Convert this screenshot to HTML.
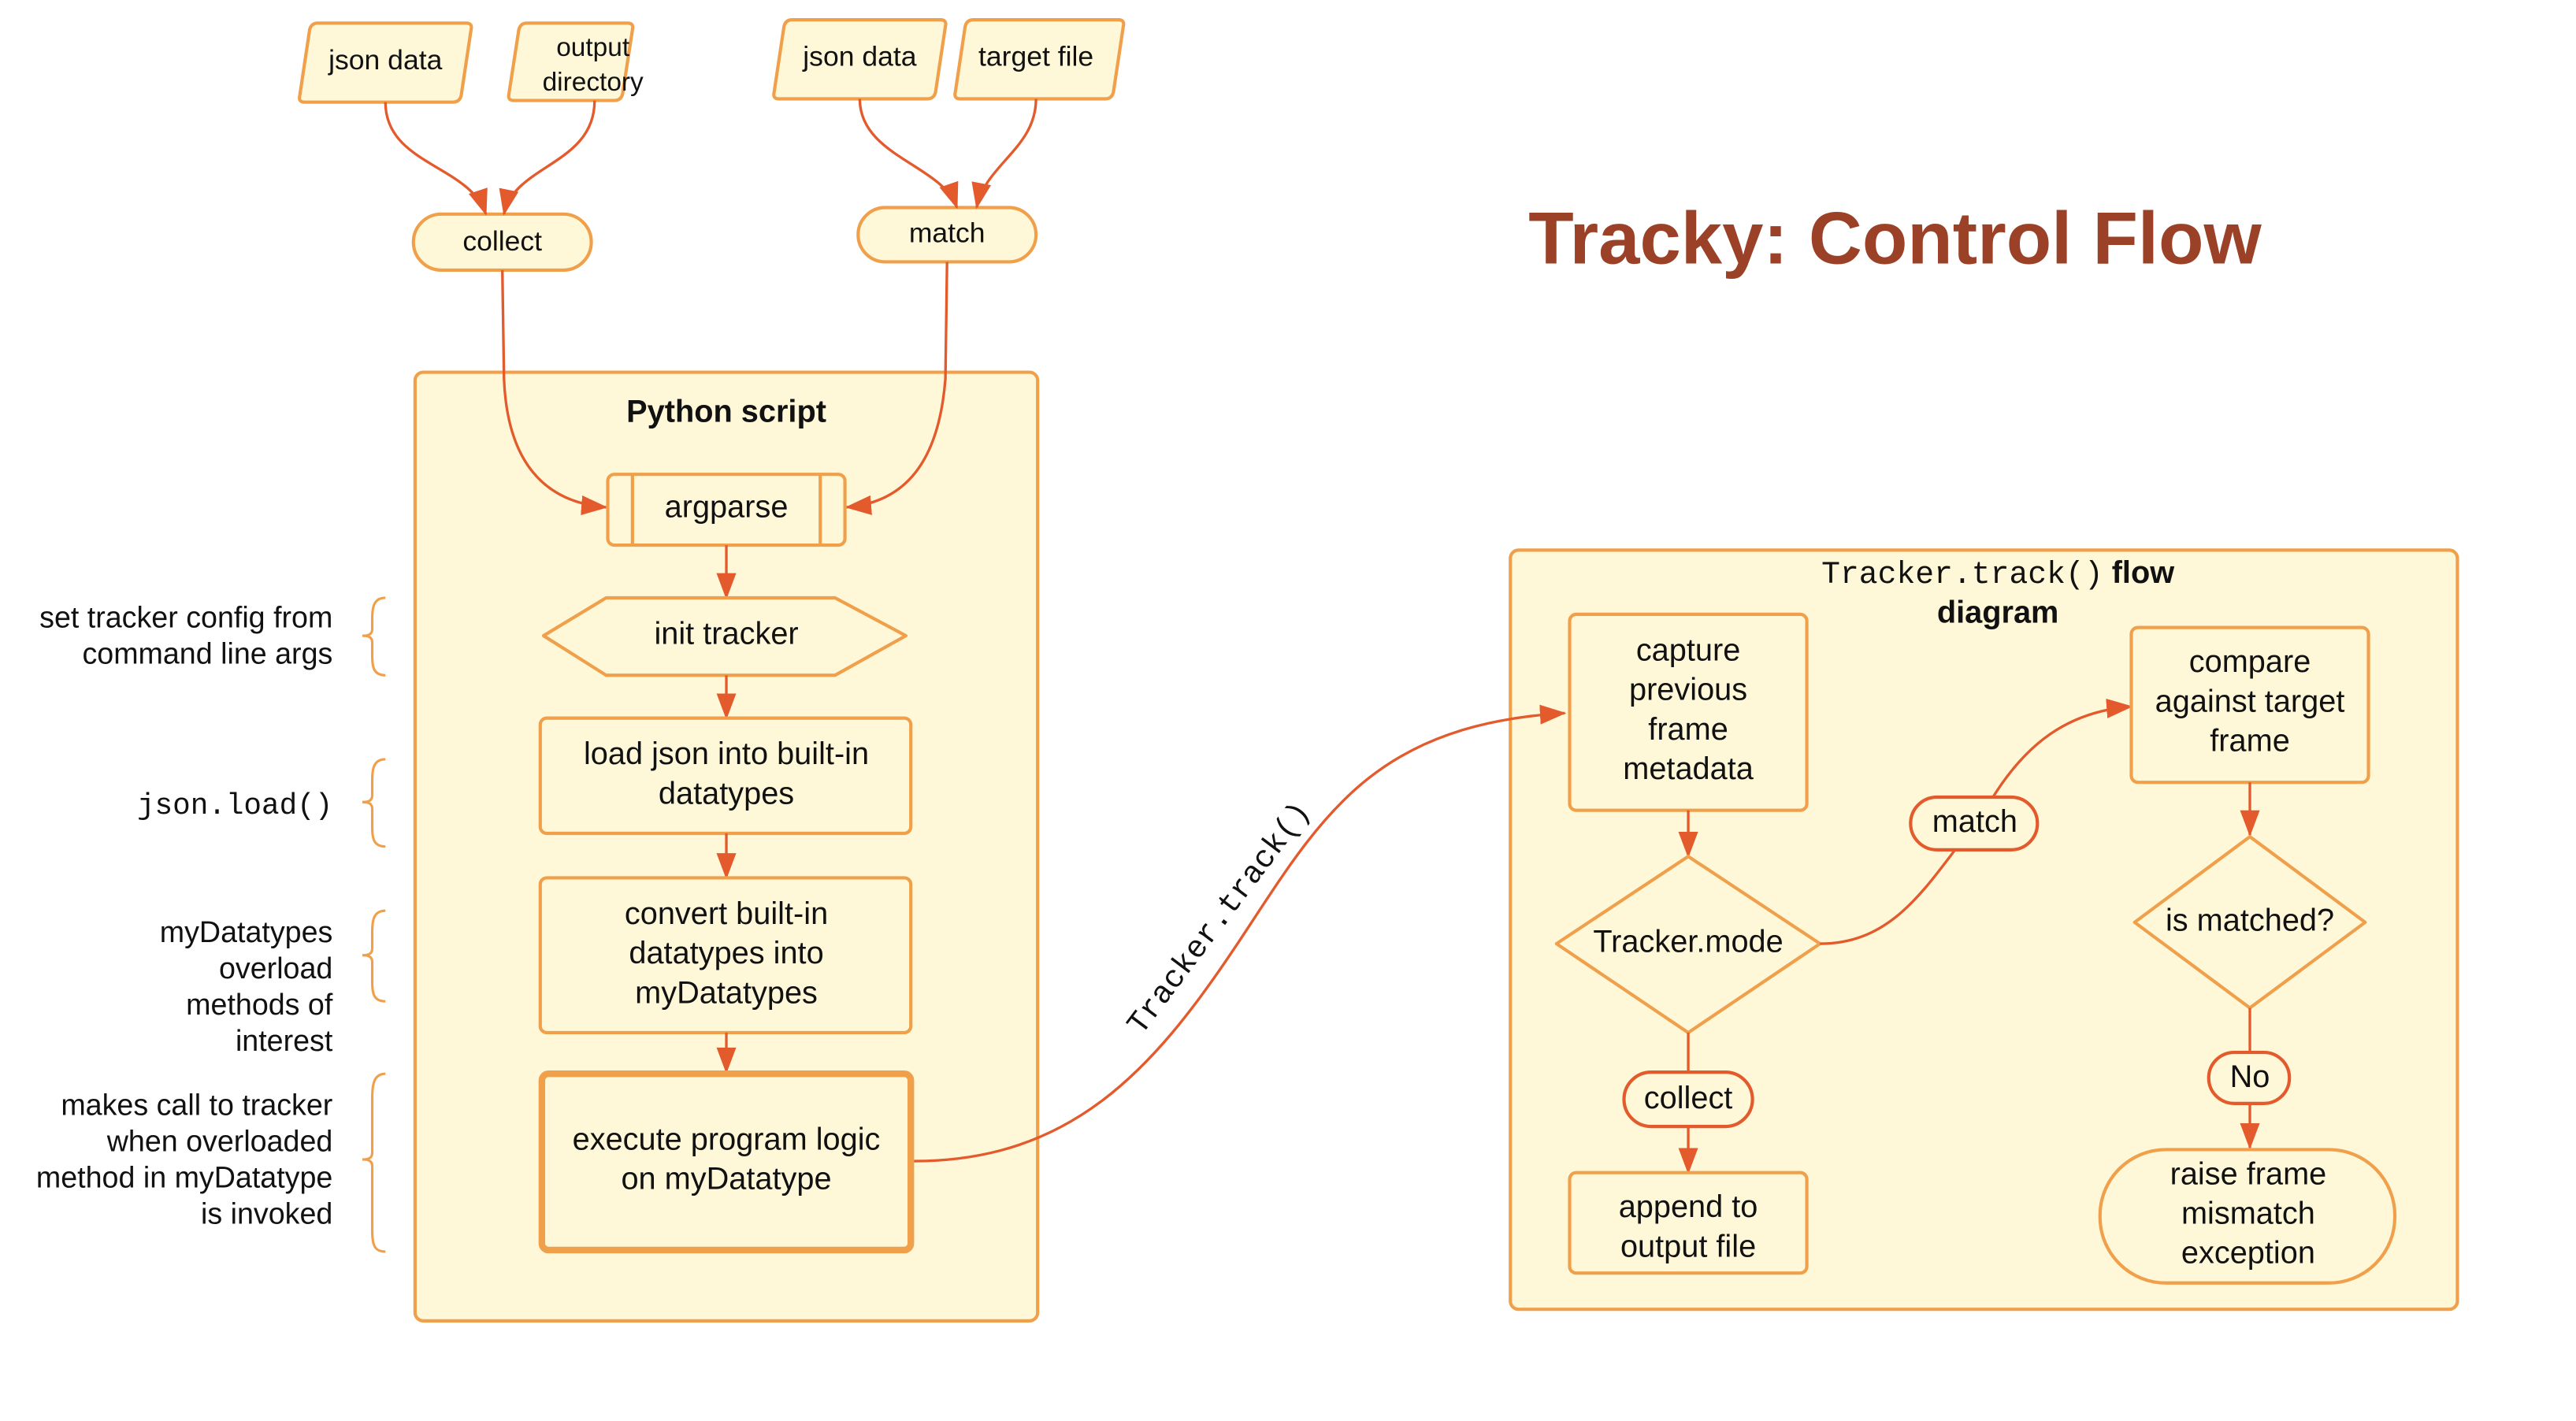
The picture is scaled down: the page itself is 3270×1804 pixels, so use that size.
<!DOCTYPE html>
<html><head><meta charset="utf-8"><style>
html,body{margin:0;padding:0;background:#fff;}
svg{display:block;}
text{font-family:"Liberation Sans",sans-serif;fill:#111;}
.m{font-family:"Liberation Mono",monospace;}
.b{fill:#FFF8D8;stroke:#F0A04B;stroke-width:2;}
.p{fill:#FFF8D8;stroke:#E35B2C;stroke-width:2;}
.c{fill:none;stroke:#E35B2C;stroke-width:1.6;}
.br{fill:none;stroke:#F0A04B;stroke-width:1.5;}
</style></head><body>
<svg width="3270" height="1804" viewBox="0 0 1564 862.8" xmlns="http://www.w3.org/2000/svg">
<defs><marker id="a" markerWidth="16" markerHeight="12" refX="15" refY="6" orient="auto" markerUnits="userSpaceOnUse"><path d="M0,0 L16,6 L0,12 Z" fill="#E35B2C"/></marker></defs>

<!-- inputs -->
<path class="b" d="M193,14 L283,14 Q287,14 286,18 L280,58 Q279,62 275,62 L185,62 Q181,62 182,58 L188,18 Q189,14 193,14 Z"/>
<text x="234" y="42" font-size="17" text-anchor="middle">json data</text>
<path class="b" d="M320,14 L381,14 Q385,14 384,18 L378,57 Q377,61 373,61 L312,61 Q308,61 309,57 L315,18 Q316,14 320,14 Z"/>
<text x="360" y="34" font-size="16" text-anchor="middle">output</text>
<text x="360" y="55" font-size="16" text-anchor="middle">directory</text>
<path class="b" d="M481,12 L571,12 Q575,12 574,16 L568,56 Q567,60 563,60 L473,60 Q469,60 470,56 L476,16 Q477,12 481,12 Z"/>
<text x="522" y="40" font-size="17" text-anchor="middle">json data</text>
<path class="b" d="M591,12 L679,12 Q683,12 682,16 L676,56 Q675,60 671,60 L583,60 Q579,60 580,56 L586,16 Q587,12 591,12 Z"/>
<text x="629" y="40" font-size="17" text-anchor="middle">target file</text>

<rect class="b" x="251" y="130" width="108" height="34" rx="17"/>
<text x="305" y="152" font-size="17" text-anchor="middle">collect</text>
<rect class="b" x="521" y="126" width="108" height="33" rx="16.5"/>
<text x="575" y="147" font-size="17" text-anchor="middle">match</text>

<path class="c" marker-end="url(#a)" d="M234,62 C234,100 285,100 295,130"/>
<path class="c" marker-end="url(#a)" d="M361,61 C361,100 312,100 306,130"/>
<path class="c" marker-end="url(#a)" d="M522,60 C522,95 572,100 581,126"/>
<path class="c" marker-end="url(#a)" d="M629,60 C629,90 598,100 593,126"/>

<!-- Python script -->
<rect class="b" x="252" y="226" width="378" height="576" rx="5"/>
<text x="441" y="256" font-size="19" font-weight="bold" text-anchor="middle">Python script</text>
<path class="c" marker-end="url(#a)" d="M305,164 L306,230 C308,280 330,305 368,308"/>
<path class="c" marker-end="url(#a)" d="M575,159 L574,230 C570,280 550,305 514,308"/>
<rect class="b" x="369" y="288" width="144" height="43" rx="4"/>
<line x1="384" y1="288" x2="384" y2="331" stroke="#F0A04B" stroke-width="2"/>
<line x1="498" y1="288" x2="498" y2="331" stroke="#F0A04B" stroke-width="2"/>
<text x="441" y="314" font-size="19" text-anchor="middle">argparse</text>
<path class="c" marker-end="url(#a)" d="M441,331 L441,363"/>
<path class="b" d="M330,386 L368,363 L507,363 L550,386 L507,410 L368,410 Z" stroke-linejoin="round"/>
<text x="441" y="391" font-size="19" text-anchor="middle">init tracker</text>
<path class="c" marker-end="url(#a)" d="M441,410 L441,436"/>
<rect class="b" x="328" y="436" width="225" height="70" rx="4"/>
<text x="441" y="464" font-size="19" text-anchor="middle">load json into built-in</text>
<text x="441" y="488" font-size="19" text-anchor="middle">datatypes</text>
<path class="c" marker-end="url(#a)" d="M441,506 L441,533"/>
<rect class="b" x="328" y="533" width="225" height="94" rx="4"/>
<text x="441" y="561" font-size="19" text-anchor="middle">convert built-in</text>
<text x="441" y="585" font-size="19" text-anchor="middle">datatypes into</text>
<text x="441" y="609" font-size="19" text-anchor="middle">myDatatypes</text>
<path class="c" marker-end="url(#a)" d="M441,627 L441,651"/>
<rect x="329" y="652" width="224" height="107" rx="4" fill="#FFF8D8" stroke="#F0A04B" stroke-width="4"/>
<text x="441" y="698" font-size="19" text-anchor="middle">execute program logic</text>
<text x="441" y="722" font-size="19" text-anchor="middle">on myDatatype</text>

<!-- annotations -->
<g font-size="18" text-anchor="end">
<text x="202" y="381">set tracker config from</text>
<text x="202" y="403">command line args</text>
<text x="202" y="494" class="m">json.load()</text>
<text x="202" y="572">myDatatypes</text>
<text x="202" y="594">overload</text>
<text x="202" y="616">methods of</text>
<text x="202" y="638">interest</text>
<text x="202" y="677">makes call to tracker</text>
<text x="202" y="699">when overloaded</text>
<text x="202" y="721">method in myDatatype</text>
<text x="202" y="743">is invoked</text>
</g>
<path class="br" d="M234,363 C226,363 226,370 226,378 L226,382 C226,386 222,386 220,386 C222,386 226,386 226,390 L226,396 C226,404 226,410 234,410"/>
<path class="br" d="M234,461 C226,461 226,468 226,476 L226,483 C226,487 222,487 220,487 C222,487 226,487 226,491 L226,500 C226,508 226,514 234,514"/>
<path class="br" d="M234,553 C226,553 226,560 226,568 L226,576 C226,580 222,580 220,580 C222,580 226,580 226,584 L226,594 C226,602 226,608 234,608"/>
<path class="br" d="M234,652 C226,652 226,660 226,670 L226,700 C226,704 222,704 220,704 C222,704 226,704 226,708 L226,744 C226,754 226,760 234,760"/>

<!-- title -->
<text x="928" y="160" font-size="45" font-weight="bold" style="fill:#9A4127">Tracky: Control Flow</text>

<!-- right box -->
<rect class="b" x="917" y="334" width="575" height="461" rx="5"/>
<text x="1213" y="354" font-size="19" text-anchor="middle"><tspan class="m">Tracker.track()</tspan><tspan font-weight="bold"> flow</tspan></text>
<text x="1213" y="378" font-size="19" font-weight="bold" text-anchor="middle">diagram</text>

<!-- Tracker.track() connector -->
<path class="c" marker-end="url(#a)" d="M555,705 C650,705 700,650 750,575 C800,500 830,440 950,433"/>
<text class="m" x="0" y="0" font-size="19" transform="translate(693,629) rotate(-53)">Tracker.track()</text>

<rect class="b" x="953" y="373" width="144" height="119" rx="4"/>
<text x="1025" y="401" font-size="19" text-anchor="middle">capture</text>
<text x="1025" y="425" font-size="19" text-anchor="middle">previous</text>
<text x="1025" y="449" font-size="19" text-anchor="middle">frame</text>
<text x="1025" y="473" font-size="19" text-anchor="middle">metadata</text>
<path class="c" marker-end="url(#a)" d="M1025,492 L1025,520"/>
<path class="b" d="M1025,520 L1105,573 L1025,627 L945,573 Z" stroke-linejoin="round"/>
<text x="1025" y="578" font-size="19" text-anchor="middle">Tracker.mode</text>
<path class="c" d="M1025,627 L1025,651"/>
<rect class="p" x="986" y="651" width="78" height="33" rx="16.5"/>
<text x="1025" y="673" font-size="19" text-anchor="middle">collect</text>
<path class="c" marker-end="url(#a)" d="M1025,684 L1025,712"/>
<rect class="b" x="953" y="712" width="144" height="61" rx="4"/>
<text x="1025" y="739" font-size="19" text-anchor="middle">append to</text>
<text x="1025" y="763" font-size="19" text-anchor="middle">output file</text>

<path class="c" d="M1105,573 C1145,573 1165,545 1187,516"/>
<rect class="p" x="1160" y="484" width="77" height="32" rx="16"/>
<text x="1199" y="505" font-size="19" text-anchor="middle">match</text>
<path class="c" marker-end="url(#a)" d="M1210,484 C1230,452 1255,432 1294,429"/>

<rect class="b" x="1294" y="381" width="144" height="94" rx="4"/>
<text x="1366" y="408" font-size="19" text-anchor="middle">compare</text>
<text x="1366" y="432" font-size="19" text-anchor="middle">against target</text>
<text x="1366" y="456" font-size="19" text-anchor="middle">frame</text>
<path class="c" marker-end="url(#a)" d="M1366,475 L1366,507"/>
<path class="b" d="M1366,508 L1436,560 L1366,612 L1296,560 Z" stroke-linejoin="round"/>
<text x="1366" y="565" font-size="19" text-anchor="middle">is matched?</text>
<path class="c" d="M1366,612 L1366,639"/>
<rect class="p" x="1341" y="639" width="49" height="31" rx="15.5"/>
<text x="1366" y="660" font-size="19" text-anchor="middle">No</text>
<path class="c" marker-end="url(#a)" d="M1366,670 L1366,697"/>
<rect class="b" x="1275" y="698" width="179" height="81" rx="40"/>
<text x="1365" y="719" font-size="19" text-anchor="middle">raise frame</text>
<text x="1365" y="743" font-size="19" text-anchor="middle">mismatch</text>
<text x="1365" y="767" font-size="19" text-anchor="middle">exception</text>
</svg>
</body></html>
